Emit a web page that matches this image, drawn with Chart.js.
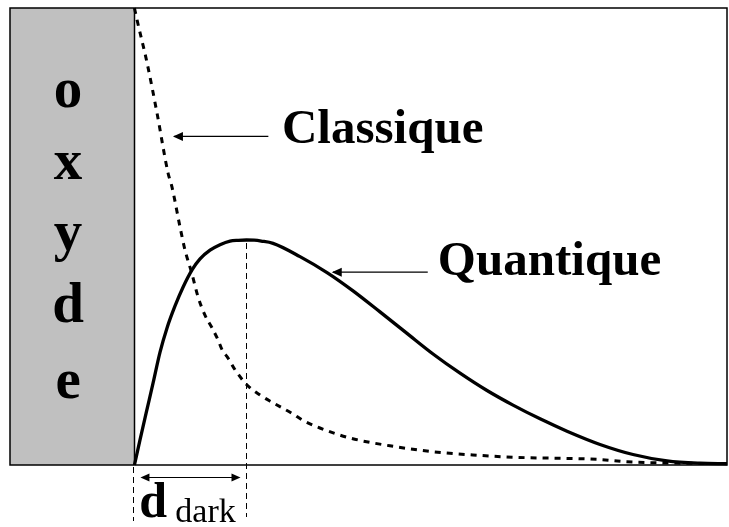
<!DOCTYPE html>
<html>
<head>
<meta charset="utf-8">
<title>Classique / Quantique</title>
<script src="https://cdn.jsdelivr.net/npm/chart.js@4.4.1/dist/chart.umd.min.js"></script>
<style>
  html, body { margin: 0; padding: 0; background: #ffffff; }
  #c { display: block; }
</style>
</head>
<body>
<canvas id="c" width="729" height="527"></canvas>
<script>
// Depth axis: oxide occupies negative depths, the semiconductor starts at 0.
const depthMin = -2.1;
const depthMax = 10;

// Classical density profile (decays from the interface).
const classicX = [0, 0.044, 0.213, 0.381, 0.567, 0.634, 0.769, 0.854, 0.967, 1.073, 1.19, 1.31, 1.41, 1.48, 1.58, 1.70, 1.90, 2.12, 2.34, 2.67, 2.84, 3.13, 3.64, 4.31, 5.04, 5.71, 6.39, 7.86, 8.31, 9.21, 10.0];
const classicY = [1.0, 0.974, 0.880, 0.770, 0.639, 0.608, 0.521, 0.470, 0.420, 0.368, 0.328, 0.300, 0.274, 0.252, 0.234, 0.208, 0.175, 0.153, 0.136, 0.112, 0.098, 0.081, 0.059, 0.042, 0.029, 0.022, 0.017, 0.012, 0.007, 0.004, 0.003];

// Quantum density profile (zero at the interface, peak at d_dark).
const quantumX = [0, 0.094, 0.196, 0.314, 0.432, 0.550, 0.685, 0.820, 0.972, 1.107, 1.276, 1.444, 1.613, 1.75, 1.89, 2.02, 2.14, 2.339, 2.794, 3.250, 3.689, 4.144, 4.600, 5.039, 5.495, 5.950, 6.389, 6.845, 7.300, 7.857, 8.414, 8.988, 9.545, 10.0];
const quantumY = [0, 0.055, 0.113, 0.179, 0.247, 0.300, 0.348, 0.389, 0.427, 0.451, 0.470, 0.482, 0.490, 0.4917, 0.4923, 0.4919, 0.490, 0.485, 0.456, 0.421, 0.381, 0.335, 0.288, 0.243, 0.201, 0.163, 0.131, 0.101, 0.074, 0.045, 0.023, 0.009, 0.004, 0.003];

// Position of the quantum maximum (dark-space width).
const dDark = 1.89;
const dDarkPeak = 0.4923;

// Text labels.
const oxideLetters = ['o', 'x', 'y', 'd', 'e'];
const curveLabels = ['Classique', 'Quantique'];

const toPoints = (xs, ys) => xs.map((x, i) => ({ x: x, y: ys[i] }));

function arrowHead(ctx, x, y, dir, len, half) {
  ctx.beginPath();
  ctx.moveTo(x, y);
  ctx.lineTo(x - dir * len, y - half);
  ctx.lineTo(x - dir * len, y + half);
  ctx.closePath();
  ctx.fill();
}

const annotations = {
  id: 'annotations',
  afterDraw(chart) {
    const ctx = chart.ctx;
    const xs = chart.scales.x;
    const ys = chart.scales.y;
    const a = chart.chartArea;
    const px = v => xs.getPixelForValue(v);
    const py = v => ys.getPixelForValue(v);
    ctx.save();

    // frame and oxide/semiconductor boundary
    ctx.strokeStyle = '#000';
    ctx.lineWidth = 1.5;
    ctx.strokeRect(a.left, a.top, a.right - a.left, a.bottom - a.top);
    ctx.beginPath();
    ctx.moveTo(Math.round(px(0)) + 0.5, a.top);
    ctx.lineTo(Math.round(px(0)) + 0.5, a.bottom);
    ctx.stroke();

    // guide lines for d_dark
    ctx.lineWidth = 1;
    ctx.setLineDash([6, 4]);
    ctx.beginPath();
    ctx.moveTo(Math.round(px(0)) - 0.5, a.bottom + 2);
    ctx.lineTo(Math.round(px(0)) - 0.5, a.bottom + 56);
    const xd = Math.round(px(dDark)) + 0.5;
    ctx.moveTo(xd, py(dDarkPeak) + 3);
    ctx.lineTo(xd, a.bottom + 52);
    ctx.stroke();
    ctx.setLineDash([]);

    // double arrow between interface and peak
    ctx.fillStyle = '#000';
    const ya = a.bottom + 12.5;
    const x0 = px(0) + 6, x1 = xd - 6;
    ctx.beginPath();
    ctx.moveTo(x0 + 6, ya);
    ctx.lineTo(x1 - 6, ya);
    ctx.stroke();
    arrowHead(ctx, x0, ya, -1, 9, 4);
    arrowHead(ctx, x1, ya, 1, 9, 4);

    // label pointers
    ctx.lineWidth = 1.3;
    const cy = py(0.719), qy = py(0.422);
    ctx.beginPath();
    ctx.moveTo(px(0.67), cy);
    ctx.lineTo(px(2.26), cy);
    ctx.moveTo(px(3.35), qy);
    ctx.lineTo(px(4.95), qy);
    ctx.stroke();
    arrowHead(ctx, px(0.65), cy, -1, 10, 4.5);
    arrowHead(ctx, px(3.33), qy, -1, 10, 4.5);

    // text
    ctx.textBaseline = 'alphabetic';
    ctx.font = 'bold 49px "Liberation Serif", "DejaVu Serif", serif';
    ctx.textAlign = 'left';
    ctx.fillText(curveLabels[0], px(2.49), py(0.705));
    ctx.fillText(curveLabels[1], px(5.12), py(0.416));

    ctx.textAlign = 'center';
    ctx.font = 'bold 57px "Liberation Serif", "DejaVu Serif", serif';
    const letterY = [0.783, 0.626, 0.470, 0.313, 0.147];
    oxideLetters.forEach((s, i) => ctx.fillText(s, px(-1.12), py(letterY[i])));

    ctx.textAlign = 'left';
    ctx.font = 'bold 50px "Liberation Serif", serif';
    ctx.fillText('d', px(0.08), a.bottom + 52);
    ctx.font = '34px "Liberation Serif", serif';
    ctx.fillText('dark', px(0.69), a.bottom + 57);

    ctx.restore();
  }
};

new Chart(document.getElementById('c'), {
  type: 'line',
  data: {
    datasets: [
      {
        label: 'oxyde',
        data: [{ x: depthMin, y: 1 }, { x: 0, y: 1 }],
        fill: 'origin',
        backgroundColor: '#c0c0c0',
        borderWidth: 0,
        pointRadius: 0,
        order: 3
      },
      {
        label: curveLabels[0],
        data: toPoints(classicX, classicY),
        borderColor: '#000',
        borderWidth: 3,
        borderDash: [6, 6],
        borderCapStyle: 'butt',
        cubicInterpolationMode: 'monotone',
        pointRadius: 0,
        fill: false,
        clip: 4,
        order: 2
      },
      {
        label: curveLabels[1],
        data: toPoints(quantumX, quantumY),
        borderColor: '#000',
        borderWidth: 3.3,
        cubicInterpolationMode: 'monotone',
        pointRadius: 0,
        fill: false,
        clip: 4,
        order: 1
      }
    ]
  },
  options: {
    responsive: false,
    animation: false,
    devicePixelRatio: 1,
    layout: { padding: { left: 10, top: 8, right: 2, bottom: 62 } },
    plugins: { legend: { display: false }, tooltip: { enabled: false } },
    scales: {
      x: { type: 'linear', min: depthMin, max: depthMax, display: false },
      y: { type: 'linear', min: 0, max: 1, display: false }
    }
  },
  plugins: [annotations]
});
</script>
</body>
</html>
